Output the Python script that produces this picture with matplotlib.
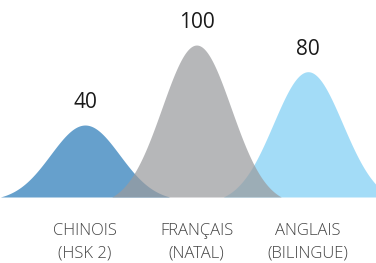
import numpy as np
import matplotlib.pyplot as plt

# --- DATA ---
languages = ['CHINOIS\n(HSK 2)', 'FRANÇAIS\n(NATAL)', 'ANGLAIS\n(BILINGUE)']
levels = [40, 100, 80]
colors = ['#2b7cb9', '#9a9b9e', '#80cff5']
draw_order = [0, 2, 1]  # grey peak sits on top

BASE = -14
SIGMA = 0.31
HALF = 0.76
ALPHA = 0.72

plt.rcParams['font.family'] = ['Open Sans', 'DejaVu Sans']

fig = plt.figure(figsize=(3.76, 2.63), dpi=100)
ax = fig.add_axes([0, (263 - 197) / 263, 1, 197 / 263])

xs = np.linspace(-HALF, HALF, 400)
edge = np.exp(-0.5 * (HALF / SIGMA) ** 2)
bell = (np.exp(-0.5 * (xs / SIGMA) ** 2) - edge) / (1 - edge)
for i in draw_order:
    ys = BASE + (levels[i] - BASE) * bell
    ax.fill_between(xs + i, BASE, ys, color=colors[i], alpha=ALPHA, lw=0)

for i, v in enumerate(levels):
    ax.text(i, v + 17, str(v), ha='center', va='center', fontsize=15, color='#1a1a1a')
    ax.text(i, BASE - 34, languages[i], ha='center', va='center', fontsize=12,
            color='#444444', linespacing=1.5, clip_on=False, fontweight='light')

ax.set_xlim(-85 / 111.5, (376 - 85) / 111.5)
ax.set_ylim(BASE, BASE + 197 / 1.333)
ax.axis('off')

fig.savefig('out.png', dpi=100)
